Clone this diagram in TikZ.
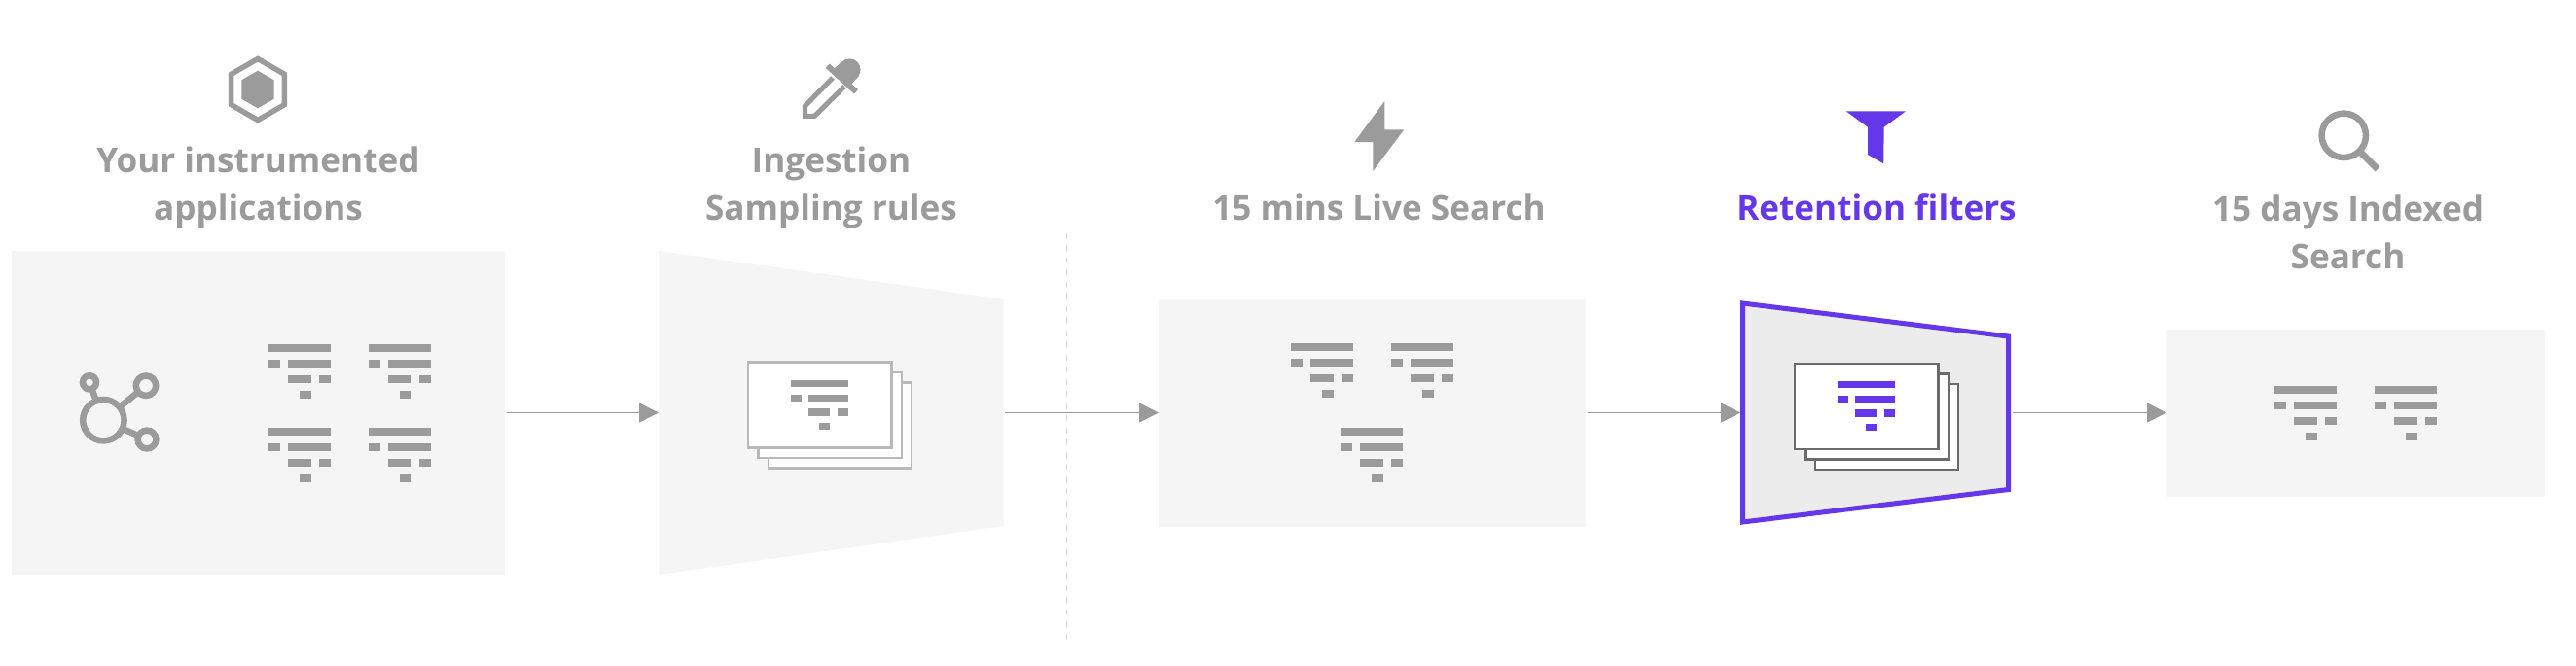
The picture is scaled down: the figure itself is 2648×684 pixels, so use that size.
\documentclass[tikz,border=0pt]{standalone}
\usepackage{fontspec}
\setmainfont{Open Sans}
\usetikzlibrary{arrows.meta}
\definecolor{markgray}{HTML}{9B9B9B}
\definecolor{panelgray}{HTML}{F5F5F5}
\definecolor{filtergray}{HTML}{ECECEC}
\definecolor{retainviolet}{HTML}{6637E8}
\tikzset{
    panel/.style={fill=panelgray, inner sep=0pt, outer sep=0pt},
    heading/.style={text=markgray, font=\fontsize{20}{27.9}\selectfont\bfseries, align=center, anchor=base, inner sep=0pt},
    flowline/.style={draw=markgray, line width=0.85pt, shorten <=0.03cm, -{Triangle[length=0.4cm, width=0.4cm]}},
    ringmark/.style={circle, draw=markgray, line width=3.7pt, inner sep=0pt, outer sep=0pt},
    linkmark/.style={draw=markgray, line width=3.7pt},
    cardsheet/.style={fill=white, line width=1.4pt}
}
% one small funnel of bars, 64 wide
\newcommand{\barfunnel}[4][1]{
    \begin{scope}[shift={(#2, #3)}, scale=#1]
        \fill[#4] (0, 0) rectangle (64, 8);
        \fill[#4] (0, 16) rectangle (12, 24);
        \fill[#4] (20, 16) rectangle (64, 24);
        \fill[#4] (20, 32) rectangle (44, 40);
        \fill[#4] (52, 32) rectangle (64, 40);
        \fill[#4] (32, 48) rectangle (44, 56);
    \end{scope}
}
\newcommand{\cardstack}[3]{
    \draw[cardsheet, draw=#3] (#1 + 21, #2 + 21) rectangle (#1 + 168, #2 + 109);
    \draw[cardsheet, draw=#3] (#1 + 10.5, #2 + 10.5) rectangle (#1 + 158, #2 + 98.5);
    \draw[cardsheet, draw=#3] (#1, #2) rectangle (#1 + 147.5, #2 + 88);
}
\begin{document}
\begin{tikzpicture}[x=0.02cm, y=-0.02cm]
    \useasboundingbox (0, 0) rectangle (2648, 684);

    \node[panel, minimum width=507*0.02cm, minimum height=333*0.02cm] (appsbox) at (265.5, 424.5) {};
    \fill[panelgray] (677, 258) to (1031.5, 308) to (1031.5, 541) to (677, 591) to cycle;
    \coordinate (samplein) at (677, 424.5);
    \coordinate (sampleout) at (1031.5, 424.5);
    \node[panel, minimum width=439*0.02cm, minimum height=234*0.02cm] (livebox) at (1410.5, 424.5) {};
    \fill[filtergray] (1791.5, 312) to (2064.5, 346) to (2064.5, 503.5) to (1791.5, 537) to cycle;
    \draw[retainviolet, line width=2.85pt, miter limit=4] (1791.5, 312) to (2064.5, 346) to (2064.5, 503.5) to (1791.5, 537) to cycle;
    \coordinate (retainin) at (1789, 424.5);
    \coordinate (retainout) at (2067, 424.5);
    \node[panel, minimum width=389*0.02cm, minimum height=172*0.02cm] (indexbox) at (2421.5, 424.5) {};

    \node[heading] (appslabel) at (265.5, 226.5) {Your instrumented\\applications};
    \node[heading] (samplelabel) at (854.5, 226.5) {Ingestion\\Sampling rules};
    \node[heading] (livelabel) at (1417.5, 226) {15 mins Live Search};
    \node[heading, text=retainviolet] (retainlabel) at (1929, 226) {Retention filters};
    \node[heading] (indexlabel) at (2413.5, 276.5) {15 days Indexed\\Search};

    \draw[flowline] (appsbox.east) to (samplein);
    \draw[flowline] (sampleout) to (livebox.west);
    \draw[flowline] (livebox.east) to (retainin);
    \draw[flowline] (retainout) to (indexbox.west);
    \draw[black!15, line width=0.85pt, dash pattern=on 0.12cm off 0.13cm] (1096.5, 240) to (1096.5, 664);

    \barfunnel{276}{354}{markgray}
    \barfunnel{379}{354}{markgray}
    \barfunnel{276}{440}{markgray}
    \barfunnel{379}{440}{markgray}
    \barfunnel{1327}{353}{markgray}
    \barfunnel{1430}{353}{markgray}
    \barfunnel{1378}{440}{markgray}
    \barfunnel{2338}{397}{markgray}
    \barfunnel{2441}{397}{markgray}

    \cardstack{769}{372.5}{markgray!70}
    \barfunnel[0.917]{813}{391}{markgray}
    \cardstack{1845}{374}{black!58}
    \barfunnel[0.917]{1889}{392}{retainviolet}

    \node[ringmark, minimum size=42.4*0.02cm] (hubring) at (106.4, 432.2) {};
    \node[ringmark, minimum size=14*0.02cm] (tinyring) at (92, 393.3) {};
    \node[ringmark, minimum size=20.4*0.02cm] (upperring) at (150, 396.7) {};
    \node[ringmark, minimum size=18.8*0.02cm] (lowerring) at (151, 452) {};
    \draw[linkmark] (hubring) to (tinyring);
    \draw[linkmark] (hubring) to (upperring);
    \draw[linkmark] (hubring) to (lowerring);

    \draw[markgray, line width=3.1pt] (265, 60.5) to (292.3, 76.25) to (292.3, 107.75) to (265, 123.5)
                              to (237.7, 107.75) to (237.7, 76.25) to cycle;
    \fill[markgray] (265, 72.7) to (281.7, 82.35) to (281.7, 101.65) to (265, 111.3)
                              to (248.3, 101.65) to (248.3, 82.35) to cycle;

    \draw[markgray, line width=2.9pt] (856, 80) to (827.5, 109) to (827.5, 119.3) to (837.3, 119.3) to (868, 89);
    \draw[markgray, line width=3.4pt] (850.7, 67.7) to (880, 94.3);
    \fill[markgray] (873.3, 71.7) circle (11.3);
    \fill[markgray] (856, 72) to (865, 63.5) to (883, 78) to (874, 88) to cycle;

    \fill[markgray] (1423.3, 104) to (1423.3, 133.3) to (1443.3, 133.3) to (1411.3, 176)
                              to (1411.3, 146) to (1392.3, 146) to cycle;

    \fill[retainviolet] (1897.7, 114.3) to (1959, 114.3) to (1936.7, 130.7) to (1936.2, 168.3)
                              to (1920, 159) to (1920, 130.7) to cycle;

    \draw[markgray, line width=3.7pt] (2409.3, 139.3) circle (22.7);
    \draw[markgray, line width=3.9pt] (2426.5, 156.5) to (2444, 174);
\end{tikzpicture}
\end{document}
